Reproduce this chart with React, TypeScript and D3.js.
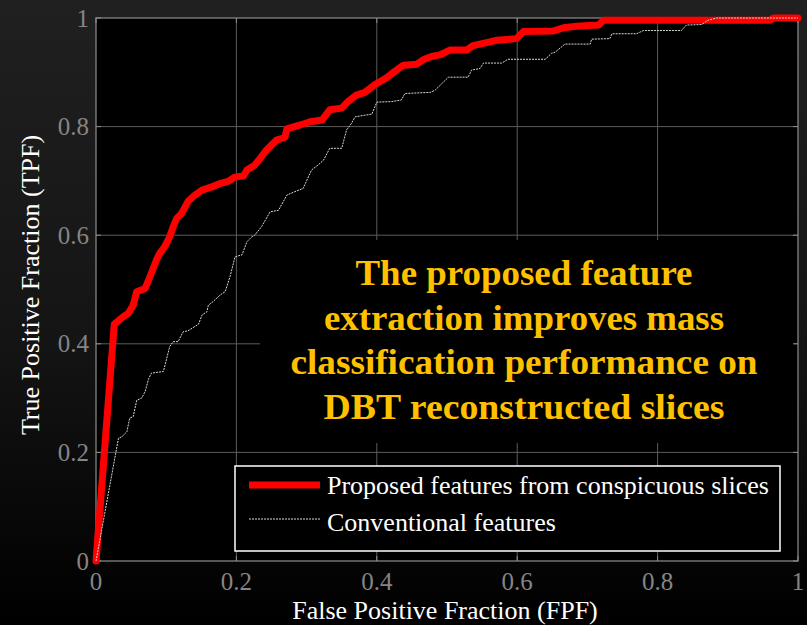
import React from "react";
import * as d3 from "d3";

const W = 807;
const H = 625;

const xTicks = [0, 0.2, 0.4, 0.6, 0.8, 1];
const yTicks = [0, 0.2, 0.4, 0.6, 0.8, 1];
const xTickLabels = ["0", "0.2", "0.4", "0.6", "0.8", "1"];
const yTickLabels = ["0", "0.2", "0.4", "0.6", "0.8", "1"];

const seriesNames = ["Proposed features from conspicuous slices", "Conventional features"];

const proposedFPF = [0, 0.026, 0.039, 0.046, 0.053, 0.058, 0.07, 0.077, 0.086, 0.091, 0.098, 0.105, 0.11, 0.115, 0.122, 0.131, 0.141, 0.151, 0.165, 0.179, 0.188, 0.198, 0.21, 0.215, 0.226, 0.236, 0.243, 0.25, 0.257, 0.269, 0.272, 0.291, 0.305, 0.322, 0.333, 0.35, 0.359, 0.371, 0.383, 0.397, 0.414, 0.428, 0.438, 0.457, 0.466, 0.478, 0.49, 0.504, 0.528, 0.537, 0.561, 0.571, 0.599, 0.609, 0.651, 0.666, 0.685, 0.716, 0.723, 0.96, 0.965, 1];
const proposedTPF = [0, 0.436, 0.45, 0.456, 0.471, 0.496, 0.502, 0.524, 0.554, 0.567, 0.579, 0.597, 0.616, 0.631, 0.64, 0.662, 0.674, 0.683, 0.689, 0.696, 0.699, 0.707, 0.709, 0.72, 0.729, 0.745, 0.757, 0.766, 0.775, 0.78, 0.796, 0.803, 0.809, 0.812, 0.831, 0.834, 0.846, 0.858, 0.863, 0.877, 0.89, 0.904, 0.913, 0.915, 0.923, 0.929, 0.932, 0.941, 0.941, 0.949, 0.956, 0.959, 0.962, 0.975, 0.976, 0.982, 0.985, 0.987, 0.996, 0.996, 1, 1];

const conventionalFPF = [0, 0.032, 0.037, 0.044, 0.048, 0.053, 0.058, 0.065, 0.07, 0.075, 0.079, 0.096, 0.105, 0.11, 0.117, 0.124, 0.131, 0.146, 0.151, 0.158, 0.16, 0.167, 0.177, 0.184, 0.191, 0.198, 0.208, 0.215, 0.222, 0.226, 0.236, 0.248, 0.26, 0.272, 0.283, 0.295, 0.307, 0.317, 0.324, 0.333, 0.35, 0.357, 0.364, 0.369, 0.383, 0.393, 0.4, 0.421, 0.435, 0.44, 0.476, 0.483, 0.502, 0.53, 0.535, 0.547, 0.552, 0.578, 0.587, 0.64, 0.649, 0.654, 0.668, 0.704, 0.706, 0.732, 0.735, 0.77, 0.78, 0.834, 0.841, 0.863, 0.872, 0.884, 1];
const conventionalTPF = [0, 0.226, 0.229, 0.238, 0.263, 0.266, 0.296, 0.3, 0.312, 0.336, 0.346, 0.349, 0.395, 0.404, 0.404, 0.422, 0.424, 0.436, 0.453, 0.459, 0.471, 0.478, 0.49, 0.496, 0.524, 0.56, 0.564, 0.588, 0.597, 0.6, 0.616, 0.643, 0.646, 0.674, 0.68, 0.686, 0.72, 0.73, 0.738, 0.76, 0.76, 0.794, 0.806, 0.818, 0.821, 0.823, 0.845, 0.846, 0.849, 0.861, 0.863, 0.867, 0.891, 0.891, 0.904, 0.907, 0.917, 0.917, 0.924, 0.924, 0.935, 0.937, 0.952, 0.952, 0.961, 0.962, 0.971, 0.971, 0.977, 0.977, 0.987, 0.988, 0.996, 1, 1];

const annotationLines = [
  "The proposed feature",
  "extraction improves mass",
  "classification performance on",
  "DBT reconstructed slices",
];
const annotationWidths = [337, 400, 467, 401];

const xAxisTitle = "False Positive Fraction (FPF)";
const yAxisTitle = "True Positive Fraction (TPF)";

export default function App() {
  const x = d3.scaleLinear().domain([0, 1]).range([96, 798]);
  const y = d3.scaleLinear().domain([0, 1]).range([561, 18]);

  const proposed = proposedFPF.map((f, i) => [f, proposedTPF[i]] as [number, number]);
  const conventional = conventionalFPF.map((f, i) => [f, conventionalTPF[i]] as [number, number]);

  const line = d3
    .line<[number, number]>()
    .x((d) => x(d[0]))
    .y((d) => y(d[1]));

  const serif = "Liberation Serif";
  const gridColor = "#5c5c5c";
  const frameColor = "#8e8e8e";
  const tickLabelColor = "#858585";

  const [x0, x1] = x.range();
  const [y0, y1] = y.range();

  return (
    <svg
      width={W}
      height={H}
      style={{ position: "fixed", left: 0, top: 0, display: "block" }}
      xmlns="http://www.w3.org/2000/svg"
    >
      <defs>
        <linearGradient id="bg" x1="0" y1="0" x2="0" y2="1">
          <stop offset="0" stopColor="#202020" />
          <stop offset="0.55" stopColor="#141414" />
          <stop offset="1" stopColor="#000000" />
        </linearGradient>
      </defs>
      <rect x={0} y={0} width={W} height={H} fill="url(#bg)" />
      <rect x={x0} y={y1} width={x1 - x0} height={y0 - y1} fill="#000" />

      {xTicks.slice(1, -1).map((t) => (
        <line key={"gx" + t} x1={x(t)} x2={x(t)} y1={y0} y2={y1} stroke={gridColor} strokeWidth={1} />
      ))}
      {yTicks.slice(1, -1).map((t) => (
        <line key={"gy" + t} x1={x0} x2={x1} y1={y(t)} y2={y(t)} stroke={gridColor} strokeWidth={1} />
      ))}

      <rect x={260} y={240} width={x1 - 260 - 4} height={203} fill="#000" />

      <rect x={x0} y={y1} width={x1 - x0} height={y0 - y1} fill="none" stroke={frameColor} strokeWidth={1.2} />

      {xTicks.map((t) => (
        <g key={"tx" + t}>
          <line x1={x(t)} x2={x(t)} y1={y0} y2={y0 - 5} stroke={frameColor} />
          <line x1={x(t)} x2={x(t)} y1={y1} y2={y1 + 5} stroke={frameColor} />
        </g>
      ))}
      {yTicks.map((t) => (
        <g key={"ty" + t}>
          <line x1={x0} x2={x0 + 5} y1={y(t)} y2={y(t)} stroke={frameColor} />
          <line x1={x1} x2={x1 - 5} y1={y(t)} y2={y(t)} stroke={frameColor} />
        </g>
      ))}

      {xTicks.map((t, i) => (
        <text key={"lx" + t} x={x(t)} y={590} textAnchor="middle" fontFamily={serif} fontSize={25} fill={tickLabelColor}>
          {xTickLabels[i]}
        </text>
      ))}
      {yTicks.map((t, i) => (
        <text key={"ly" + t} x={89} y={y(t) + 8.5} textAnchor="end" fontFamily={serif} fontSize={25} fill={tickLabelColor}>
          {yTickLabels[i]}
        </text>
      ))}

      <path
        d={line(proposed) || ""}
        fill="none"
        stroke="#ff0000"
        strokeWidth={7}
        strokeLinejoin="round"
        strokeLinecap="round"
      />
      <path d={line(conventional) || ""} fill="none" stroke="#d9d9d9" strokeWidth={1} strokeDasharray="2,1" />

      {annotationLines.map((s, i) => (
        <text
          key={"an" + i}
          x={524}
          y={285 + i * 44.7}
          textAnchor="middle"
          fontFamily={serif}
          fontWeight="bold"
          fontSize={35}
          fill="#ffc000"
          textLength={annotationWidths[i]}
          lengthAdjust="spacingAndGlyphs"
        >
          {s}
        </text>
      ))}

      <rect x={235} y={466} width={545} height={85} fill="#000" stroke="#ffffff" strokeWidth={1.5} />
      <line x1={249} x2={320} y1={485} y2={485} stroke="#ff0000" strokeWidth={7} />
      <line x1={249} x2={320} y1={519} y2={519} stroke="#d9d9d9" strokeWidth={1} strokeDasharray="2,1" />
      <text x={327} y={494} fontFamily={serif} fontSize={26} fill="#ffffff">
        {seriesNames[0]}
      </text>
      <text x={327} y={530.5} fontFamily={serif} fontSize={26} fill="#ffffff">
        {seriesNames[1]}
      </text>

      <text x={445} y={619} textAnchor="middle" fontFamily={serif} fontSize={26} fill="#ffffff">
        {xAxisTitle}
      </text>
      <text transform={`translate(39,285) rotate(-90)`} textAnchor="middle" fontFamily={serif} fontSize={26} fill="#ffffff">
        {yAxisTitle}
      </text>
    </svg>
  );
}
